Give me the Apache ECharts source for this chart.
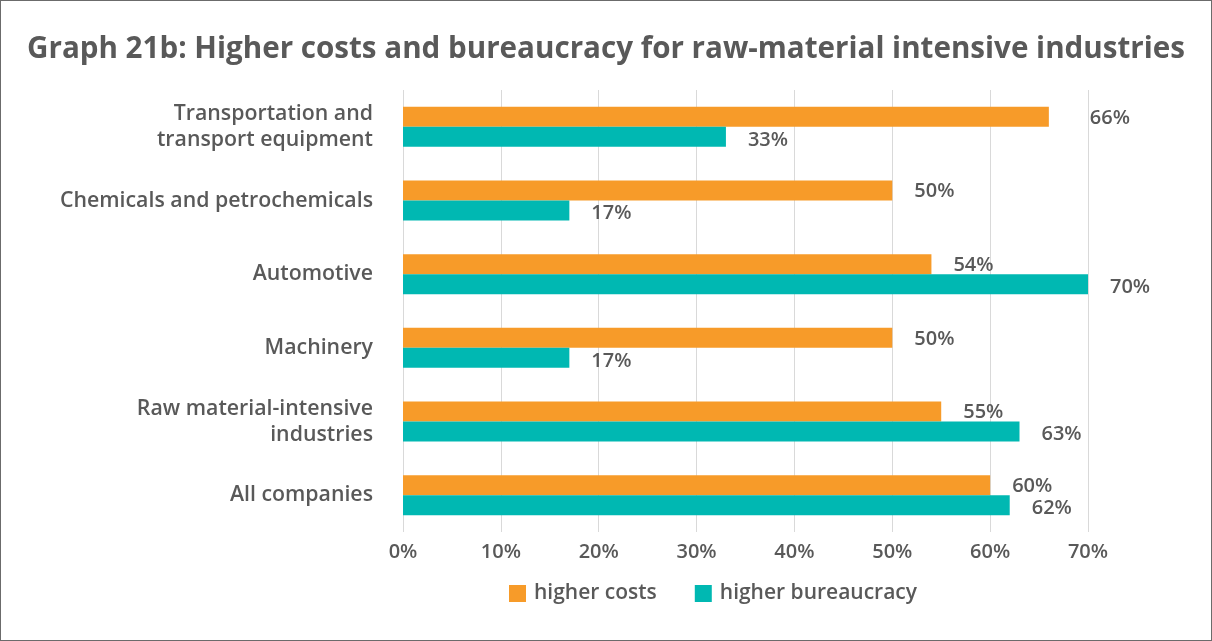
<!DOCTYPE html>
<html>
<head>
<meta charset="utf-8">
<script src="https://cdn.jsdelivr.net/npm/echarts@6/dist/echarts.min.js"></script>
<style>
  html, body { margin: 0; padding: 0; background: #fff; }
  #chart { width: 1212px; height: 641px; box-sizing: border-box; border: 1px solid #6b6b6b; }
</style>
</head>
<body>
<div id="chart"></div>
<script>
// data
var categories = [
  'Transportation and\ntransport equipment',
  'Chemicals and petrochemicals',
  'Automotive',
  'Machinery',
  'Raw material-intensive\nindustries',
  'All companies'
];
var costs = [66, 50, 54, 50, 55, 60];
var bureaucracy = [33, 17, 70, 17, 63, 62];
var xTicks = [0, 10, 20, 30, 40, 50, 60, 70];

var textColor = '#595959';
var font = '"Open Sans", "Noto Sans", sans-serif';

var chart = echarts.init(document.getElementById('chart'));

function labelFor(dy) {
  return {
    show: true,
    position: 'right',
    distance: 22,
    offset: [0, dy],
    color: textColor,
    fontFamily: font,
    fontWeight: 600,
    fontSize: 20,
    formatter: '{c}%'
  };
}

// first orange label sits further out in the original
var costData = costs.map(function (v, i) {
  if (i === 0) return { value: v, label: { distance: 41 } };
  return v;
});

var option = {
  animation: false,
  title: {
    text: 'Graph 21b: Higher costs and bureaucracy for raw-material intensive industries',
    left: 'center',
    top: 29,
    textStyle: { color: textColor, fontFamily: font, fontWeight: 'bold', fontSize: 29.6 }
  },
  grid: { left: 402, right: 123, top: 89, bottom: 108 },
  legend: {
    top: 582,
    left: 508,
    padding: 0,
    itemWidth: 17,
    itemHeight: 17,
    itemGap: 38,
    icon: 'rect',
    textStyle: { color: textColor, fontFamily: font, fontWeight: 600, fontSize: 21, padding: [0, 0, 0, 3] },
    data: ['higher costs', 'higher bureaucracy']
  },
  xAxis: {
    type: 'value',
    min: xTicks[0],
    max: xTicks[xTicks.length - 1],
    interval: 10,
    axisLine: { show: false },
    axisTick: { show: false },
    splitLine: { lineStyle: { color: '#d9d9d9', width: 1 } },
    axisLabel: {
      margin: 10,
      color: textColor,
      fontFamily: font,
      fontWeight: 600,
      fontSize: 20,
      formatter: '{value}%'
    }
  },
  yAxis: {
    type: 'category',
    inverse: true,
    data: categories,
    axisLine: { show: false },
    axisTick: { show: false },
    axisLabel: {
      margin: 30,
      color: textColor,
      fontFamily: font,
      fontWeight: 600,
      fontSize: 21.3,
      lineHeight: 26,
      align: 'right'
    }
  },
  series: [
    {
      name: 'higher costs',
      type: 'bar',
      barWidth: 20,
      barGap: '0%',
      itemStyle: { color: '#f79b29' },
      label: labelFor(1),
      data: costData
    },
    {
      name: 'higher bureaucracy',
      type: 'bar',
      barWidth: 20,
      barGap: '0%',
      itemStyle: { color: '#00b8b2' },
      label: labelFor(3),
      data: bureaucracy
    }
  ]
};

chart.setOption(option);
</script>
</body>
</html>
